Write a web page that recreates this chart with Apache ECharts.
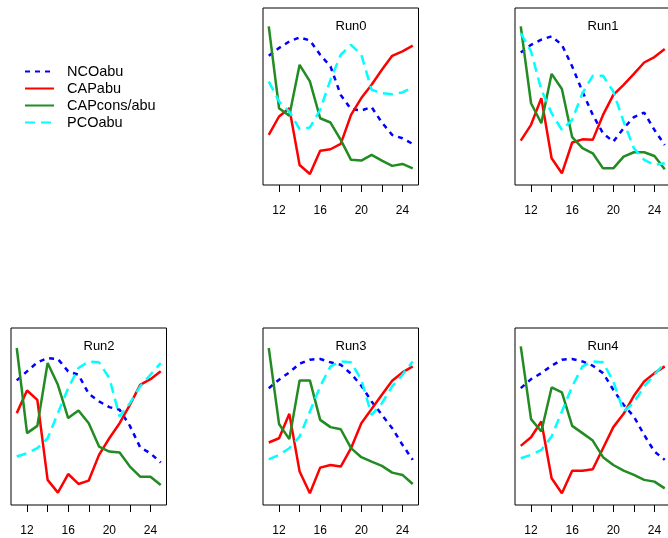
<!DOCTYPE html>
<html>
<head>
<meta charset="utf-8">
<script src="https://cdn.jsdelivr.net/npm/echarts@6/dist/echarts.min.js"></script>
<style>
  html, body { margin: 0; padding: 0; background: #fff; }
  #main { width: 668px; height: 538px; }
</style>
</head>
<body>
<div id="main"></div>
<script>
// x values shared by all runs
const years = [11, 12, 13, 14, 15, 16, 17, 18, 19, 20, 21, 22, 23, 24, 25];
const tickValues = [12, 14, 16, 18, 20, 22, 24];
const tickLabels = [12, 16, 20, 24];
const runNames = ["Run0", "Run1", "Run2", "Run3", "Run4"];
const seriesNames = ["NCOabu", "CAPabu", "CAPcons/abu", "PCOabu"];

// values (no y scale shown, 0-100 = panel height)
const ncoAbu = [
  [73.0, 77.4, 81.1, 83.4, 81.7, 73.6, 67.0, 50.9, 42.8, 42.1, 44.0, 35.3, 28.3, 26.4, 23.2],
  [74.9, 79.2, 82.1, 84.0, 79.2, 67.0, 52.8, 39.6, 29.2, 24.5, 32.1, 38.3, 40.9, 31.1, 22.6],
  [70.4, 75.5, 80.6, 83.0, 82.5, 75.5, 73.6, 62.8, 58.5, 55.3, 53.8, 44.7, 32.6, 29.2, 24.0],
  [66.0, 70.8, 74.9, 79.8, 82.1, 82.5, 80.6, 79.2, 74.2, 67.4, 58.5, 50.9, 43.4, 34.0, 25.5],
  [66.0, 71.1, 74.5, 78.7, 82.1, 82.5, 81.1, 78.7, 74.5, 65.1, 56.6, 50.0, 39.6, 30.2, 25.5]
];
const capAbu = [
  [28.3, 38.7, 43.4, 11.3, 6.2, 19.4, 20.2, 23.2, 39.6, 49.1, 56.6, 65.1, 73.0, 75.5, 78.7],
  [25.1, 34.0, 49.1, 15.1, 6.6, 24.0, 25.8, 25.5, 39.6, 50.9, 56.6, 62.8, 69.2, 72.3, 76.8],
  [51.9, 64.7, 59.4, 14.2, 7.0, 17.5, 11.9, 13.8, 28.3, 37.7, 46.2, 56.6, 67.9, 71.1, 75.5],
  [35.3, 37.7, 51.5, 18.9, 6.6, 21.1, 22.6, 21.7, 32.1, 46.2, 54.2, 62.3, 70.2, 74.9, 78.3],
  [33.4, 38.3, 47.2, 15.1, 6.6, 19.4, 19.4, 20.2, 32.1, 44.0, 51.5, 61.7, 69.8, 74.5, 78.3]
];
const capConsAbu = [
  [89.6, 43.4, 39.1, 67.9, 58.5, 37.7, 35.3, 25.5, 14.2, 13.8, 17.0, 13.8, 10.8, 11.9, 9.4],
  [89.6, 46.2, 34.9, 62.8, 54.2, 27.0, 20.8, 17.9, 9.4, 9.4, 16.0, 18.5, 18.5, 16.4, 8.9],
  [88.7, 40.6, 44.7, 80.2, 67.9, 49.1, 53.4, 46.2, 33.0, 30.2, 29.6, 21.7, 16.0, 16.0, 11.3],
  [88.7, 45.8, 37.2, 70.4, 70.4, 48.1, 44.0, 42.8, 32.1, 27.0, 24.5, 22.1, 18.3, 17.0, 11.9],
  [89.6, 48.5, 41.5, 66.4, 63.6, 44.7, 40.6, 36.4, 27.0, 22.6, 19.4, 17.0, 14.2, 13.2, 9.4]
];
const pcoAbu = [
  [58.5, 47.2, 41.5, 31.5, 32.5, 42.5, 59.4, 73.6, 79.2, 73.6, 53.8, 51.9, 51.3, 52.3, 55.3],
  [85.8, 75.5, 53.8, 40.6, 31.1, 36.8, 51.9, 61.7, 61.7, 52.8, 35.8, 20.8, 14.2, 11.3, 12.3],
  [27.4, 29.2, 32.1, 37.7, 51.9, 66.0, 77.4, 81.1, 80.6, 71.7, 50.0, 57.5, 67.0, 73.6, 80.2],
  [25.8, 28.3, 32.1, 38.7, 52.8, 67.0, 78.3, 81.1, 80.6, 70.8, 50.9, 57.5, 67.0, 73.6, 81.1],
  [26.4, 28.3, 31.1, 38.7, 52.8, 67.0, 78.3, 81.1, 80.6, 69.8, 52.8, 57.9, 67.0, 73.6, 80.2]
];

const XMIN = 10.44, XMAX = 25.56;
const FONT = "Liberation Sans, Arial, sans-serif";

// panel boxes: [left, top]
const panels = [[263, 8], [515, 8], [11, 328], [263, 328], [515, 328]];
const PW = 155.5, PH = 177;

const styles = [
  { color: "#0000ff", type: [5, 5] },
  { color: "#ff0000", type: "solid" },
  { color: "#228b22", type: "solid" },
  { color: "#00ffff", type: [10, 6] }
];
const allData = [ncoAbu, capAbu, capConsAbu, pcoAbu];

const grid = [], xAxis = [], yAxis = [], series = [], title = [];
panels.forEach(function (p, i) {
  grid.push({
    left: p[0], top: p[1], width: PW, height: PH,
    show: true, borderColor: "#000", borderWidth: 1,
    outerBoundsMode: "none"
  });
  xAxis.push({
    type: "value", gridIndex: i, min: XMIN, max: XMAX,
    axisLine: { show: false },
    splitLine: { show: false },
    axisTick: { show: true, length: 7, customValues: tickValues, lineStyle: { color: "#000" } },
    axisLabel: { customValues: tickLabels, margin: 20, fontSize: 12, color: "#000", fontFamily: FONT }
  });
  yAxis.push({ type: "value", gridIndex: i, min: 0, max: 100, show: false });
  title.push({
    text: runNames[i],
    left: p[0] + (19 - XMIN) / (XMAX - XMIN) * PW,
    top: p[1] + 12,
    textAlign: "center",
    padding: 0,
    textStyle: { fontSize: 13, fontWeight: "normal", color: "#000", fontFamily: FONT }
  });
  seriesNames.forEach(function (name, k) {
    series.push({
      name: name,
      type: "line",
      xAxisIndex: i, yAxisIndex: i,
      symbol: "none",
      animation: false,
      z: 2 + k,
      data: years.map(function (x, j) { return [x, allData[k][i][j]]; }),
      lineStyle: { color: styles[k].color, width: 2.5, type: styles[k].type, cap: "butt" },
      itemStyle: { color: styles[k].color }
    });
  });
});

const chart = echarts.init(document.getElementById("main"), null, { renderer: "canvas" });
chart.setOption({
  backgroundColor: "#fff",
  animation: false,
  title: title,
  legend: {
    data: seriesNames,
    orient: "vertical",
    left: 24, top: 64,
    itemWidth: 29, itemHeight: 14, itemGap: 2,
    padding: 0,
    selectedMode: false,
    itemStyle: { color: "rgba(0,0,0,0)", borderWidth: 0, opacity: 0 },
    textStyle: { fontSize: 14.5, color: "#000", fontFamily: FONT, padding: [0, 0, 0, 8] }
  },
  grid: grid,
  xAxis: xAxis,
  yAxis: yAxis,
  series: series
});
</script>
</body>
</html>
